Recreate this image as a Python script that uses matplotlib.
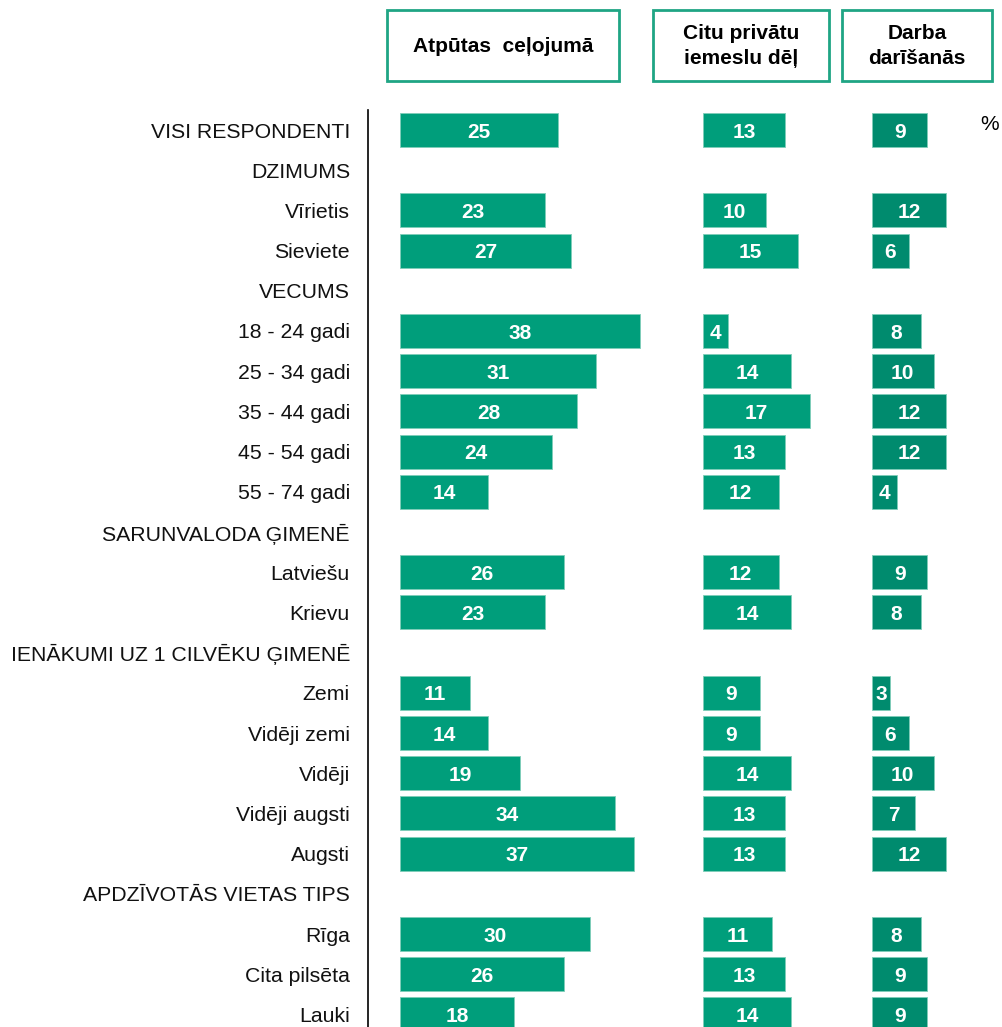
import matplotlib.pyplot as plt
from matplotlib.patches import Rectangle

plt.rcParams['font.family'] = ['Liberation Sans', 'DejaVu Sans']

labels = ["VISI RESPONDENTI", "DZIMUMS", "Vīrietis", "Sieviete", "VECUMS",
          "18 - 24 gadi", "25 - 34 gadi", "35 - 44 gadi", "45 - 54 gadi",
          "55 - 74 gadi", "SARUNVALODA ĢIMENĒ", "Latviešu", "Krievu",
          "IENĀKUMI UZ 1 CILVĒKU ĢIMENĒ", "Zemi", "Vidēji zemi", "Vidēji",
          "Vidēji augsti", "Augsti", "APDZĪVOTĀS VIETAS TIPS", "Rīga",
          "Cita pilsēta", "Lauki"]

leisure = [25, None, 23, 27, None, 38, 31, 28, 24, 14, None, 26, 23, None,
           11, 14, 19, 34, 37, None, 30, 26, 18]
private = [13, None, 10, 15, None, 4, 14, 17, 13, 12, None, 12, 14, None,
           9, 9, 14, 13, 13, None, 11, 13, 14]
business = [9, None, 12, 6, None, 8, 10, 12, 12, 4, None, 9, 8, None,
            3, 6, 10, 7, 12, None, 8, 9, 9]

headers = ["Atpūtas  ceļojumā", "Citu privātu\niemeslu dēļ", "Darba\ndarīšanās"]

W, H = 1002, 1027
fig = plt.figure(figsize=(W / 100, H / 100), dpi=100)

# vertical layout in pixels
row0, step = 130, 40.2
top_px, bot_px = 110, H
ylim = ((bot_px - row0) / step, (top_px - row0) / step)

c_main = '#009E7B'
c_dark = '#008B6E'
c_box = '#1FA584'


def make_ax(left_px, right_px, zero_px, scale):
    ax = fig.add_axes([left_px / W, 1 - bot_px / H,
                       (right_px - left_px) / W, (bot_px - top_px) / H])
    ax.set_xlim((left_px - zero_px) / scale, (right_px - zero_px) / scale)
    ax.set_ylim(*ylim)
    for s in ax.spines.values():
        s.set_visible(False)
    ax.set_xticks([])
    ax.set_yticks([])
    ax.patch.set_alpha(0)
    return ax


ax1 = make_ax(368, 670, 400, 6.32)
ax2 = make_ax(690, 840, 703, 6.3)
ax3 = make_ax(860, 970, 872, 6.15)

ax1.spines['left'].set_visible(True)
ax1.spines['left'].set_linewidth(1.2)
ax1.set_yticks(range(len(labels)))
ax1.set_yticklabels(labels, fontsize=15.3, color='#111111')
ax1.tick_params(axis='y', length=0, pad=13)

for ax, vals, col in [(ax1, leisure, c_main), (ax2, private, c_main),
                      (ax3, business, c_dark)]:
    for i, v in enumerate(vals):
        if v is None:
            continue
        ax.barh(i, v, height=0.85, color=col, edgecolor='#7fcdb9',
                linewidth=0.6, clip_on=True)
        ax.text(v / 2, i + 0.19, str(v), ha='center', va='baseline',
                color='white', fontsize=15, fontweight='bold')

# header boxes
boxes = [(387, 619), (653, 829), (842, 992)]
for (x0, x1), t in zip(boxes, headers):
    fig.add_artist(Rectangle((x0 / W, 1 - 81 / H), (x1 - x0) / W, 71 / H,
                             transform=fig.transFigure, fill=False,
                             edgecolor=c_box, linewidth=2))
    fig.text((x0 + x1) / 2 / W, 1 - 46 / H, t, ha='center', va='center',
             fontsize=15, fontweight='bold', linespacing=1.45)

fig.text(990 / W, 1 - 125 / H, '%', ha='center', va='center', fontsize=15)

fig.savefig('out.png', dpi=100)
